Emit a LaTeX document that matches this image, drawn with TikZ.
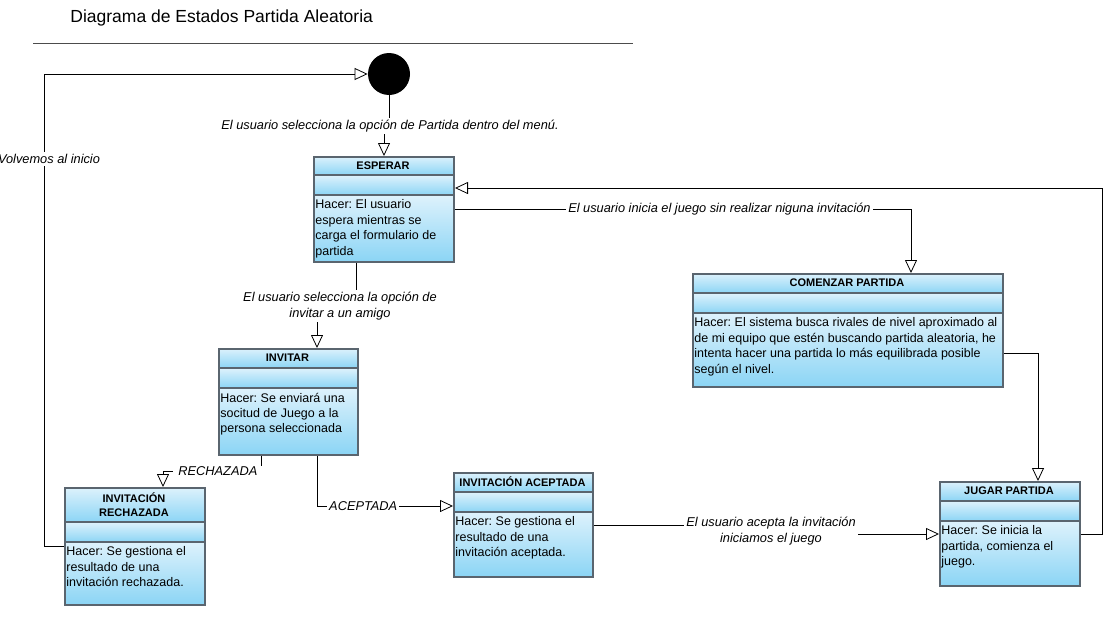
\documentclass[tikz,border=0pt]{standalone}
\usepackage{fontspec}
\setmainfont{Liberation Sans}
\usetikzlibrary{arrows.meta}
\frenchspacing

\definecolor{celltop}{RGB}{222,242,252}
\definecolor{cellbot}{RGB}{140,213,245}
\definecolor{cellline}{RGB}{90,101,111}

\tikzset{
  cell/.style={top color=celltop,bottom color=cellbot},
  stbox/.style={draw=cellline,line width=2pt,inner sep=0pt},
  sthead/.style={font=\fontsize{11}{13.5}\selectfont\bfseries,align=center,inner sep=0pt},
  sttext/.style={font=\fontsize{12.5}{15.4}\selectfont,align=left,inner sep=0pt},
  lbl/.style={font=\fontsize{12.8}{16}\selectfont\itshape,fill=white,align=center,inner sep=2pt},
  tri/.style={-{Triangle[length=13pt,width=12pt,fill=white]}},
}

% name, left, top, width, head height, height, title, text
\newcommand\estado[8]{%
  \shade[cell] (#2,#3) rectangle (#2+#4,#3+#5);
  \shade[cell] (#2,#3+#5) rectangle (#2+#4,#3+#5+20);
  \shade[cell] (#2,#3+#5+20) rectangle (#2+#4,#3+#6);
  \draw[cellline,line width=2pt] (#2,#3+#5) -- (#2+#4,#3+#5) (#2,#3+#5+20) -- (#2+#4,#3+#5+20);
  \node[stbox,minimum width=#4pt,minimum height=#6pt,anchor=north west] (#1) at (#2,#3) {};
  \node[sthead] at (#2+#4/2,#3+#5/2) {#7};
  \node[sttext,anchor=north west] at (#2+2,#3+#5+24.5) {#8};
}

\begin{document}
\begin{tikzpicture}[x=1pt,y=-1pt,line width=0.8pt]
  \path[use as bounding box,clip] (0,0) rectangle (1119,624);

  \node[anchor=base west,font=\fontsize{17.5}{20}\selectfont,inner sep=0pt] (titulo) at (70,22.7) {Diagrama de Estados Partida Aleatoria};
  \draw[black!70] (33,43) -- (633,43);

  \node[circle,fill=black,minimum size=42pt,inner sep=0pt] (ini) at (389,74) {};

  \estado{esperar}{313}{156}{140}{19}{105}{ESPERAR}{Hacer: El usuario\\espera mientras se\\carga el formulario de\\partida}
  \estado{invitar}{218}{348}{139}{20}{106}{INVITAR}{Hacer: Se enviará una\\socitud de Juego a la\\persona seleccionada}
  \estado{rechazada}{64}{487}{140}{35}{117}{INVITACIÓN\\RECHAZADA}{Hacer: Se gestiona el\\resultado de una\\invitación rechazada.}
  \estado{aceptada}{453}{472}{139}{20}{104}{INVITACIÓN ACEPTADA}{Hacer: Se gestiona el\\resultado de una\\invitación aceptada.}
  \estado{comenzar}{692}{273}{310}{20}{113}{COMENZAR PARTIDA}{Hacer: El sistema busca rivales de nivel aproximado al\\de mi equipo que estén buscando partida aleatoria, he\\intenta hacer una partida lo más equilibrada posible\\según el nivel.}
  \estado{jugar}{939}{481}{140}{20}{104}{JUGAR PARTIDA}{Hacer: Se inicia la\\partida, comienza el\\juego.}

  % transiciones
  \node[lbl] (l1) at (390,126) {El usuario selecciona la opción de Partida dentro del menú.};
  \draw (ini.south) -- (ini.south |- l1.north);
  \draw[tri] (l1.south -| esperar.north) -- (esperar.north);

  \node[lbl] (l2) at (340,306) {El usuario selecciona la opción de\\invitar a un amigo};
  \draw ([xshift=-28pt]esperar.south) -- ([xshift=-28pt]esperar.south |- l2.north);
  \draw[tri] ([xshift=28.5pt]invitar.north |- l2.south) -- ([xshift=28.5pt]invitar.north);

  \draw[tri] (esperar.east) -| node[lbl,pos=0.29] {El usuario inicia el juego sin realizar niguna invitación} ([xshift=63pt]comenzar.north);
  \draw[tri] ([yshift=-22.5pt]comenzar.east) -| ([xshift=28pt]jugar.north);
  \draw[tri] (jugar.east) -- ++(21,0) |- ([yshift=21.5pt]esperar.east);

  \draw[tri] ([xshift=-27.5pt]invitar.south) -- ++(0,15) -| node[lbl,pos=0.22,inner xsep=5pt,inner ysep=0.5pt] {RECHAZADA} ([xshift=28pt]rechazada.north);
  \draw[tri] ([xshift=28.5pt]invitar.south) |- node[lbl,pos=0.67] {ACEPTADA} ([yshift=19pt]aceptada.west);

  \node[lbl] (l8) at (771,531) {El usuario acepta la invitación\\iniciamos el juego};
  \draw (aceptada.east) -- (l8.west |- aceptada.east);
  \draw[tri] (l8.east |- jugar.west) -- (jugar.west);

  \draw[tri] (rechazada.west) -- ++(-20,0) |- node[lbl,pos=0.41,xshift=5pt] {Volvemos al inicio} (ini.west);
\end{tikzpicture}
\end{document}
